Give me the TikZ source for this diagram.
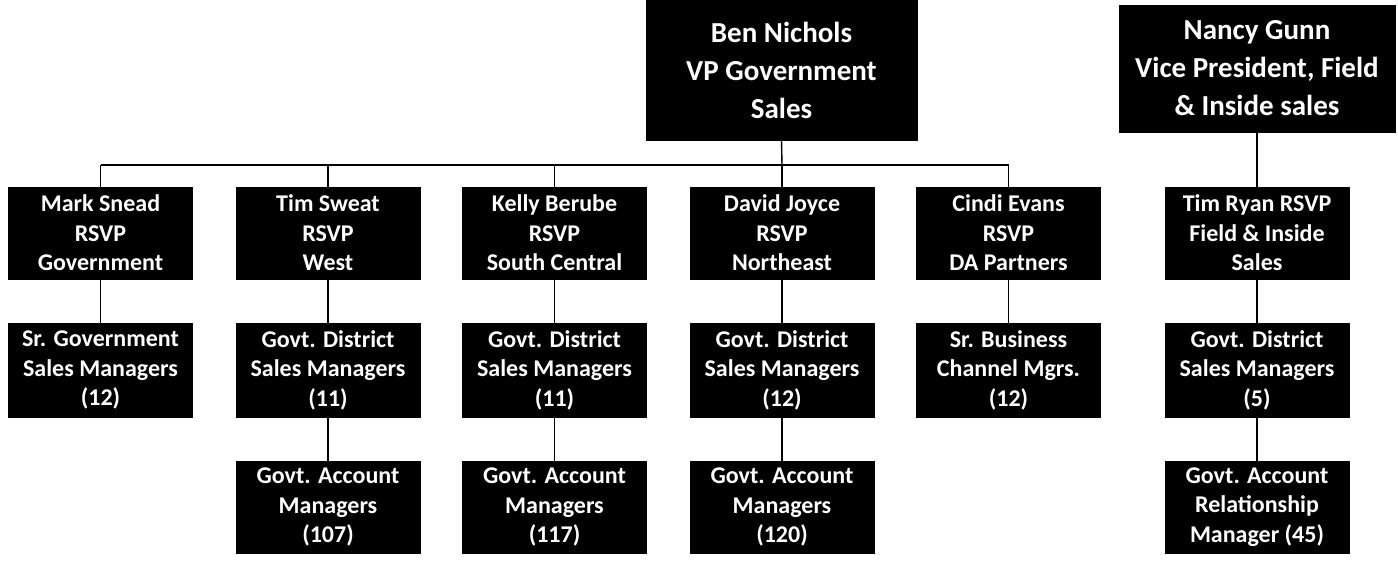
\documentclass[tikz,border=0pt]{standalone}
\usepackage{fontspec}
\setmainfont{Carlito}
\begin{document}
\begin{tikzpicture}[x=1pt,y=-1pt,
  topbox/.style={fill=black,draw=black,text=white,align=center,inner sep=0pt,
    font=\bfseries\fontsize{29}{38}\selectfont},
  orgbox/.style={fill=black,draw=black,text=white,align=center,inner sep=0pt,
    minimum width=184pt,font=\bfseries\fontsize{24}{29.5}\selectfont},
  link/.style={draw=black,line width=1.4pt}]
\useasboundingbox (0,0) rectangle (1398,560);
% top level
\node[topbox,minimum width=271pt,minimum height=140pt] (ben) at (781.5,70) {Ben Nichols\\VP Government\\Sales};
\node[topbox,minimum width=276pt,minimum height=127pt] (nancy) at (1257,68.5) {Nancy Gunn\\Vice President, Field\\\& Inside sales};
% row 1
\node[orgbox,minimum height=92pt] (mark) at (100.5,233) {Mark Snead\\RSVP\\Government};
\node[orgbox,minimum height=92pt] (tim) at (328,233) {Tim Sweat\\RSVP\\West};
\node[orgbox,minimum height=92pt] (kelly) at (554.5,233) {Kelly Berube\\RSVP\\South Central};
\node[orgbox,minimum height=92pt] (david) at (782,233) {David Joyce\\RSVP\\Northeast};
\node[orgbox,minimum height=92pt] (cindi) at (1008.5,233) {Cindi Evans\\RSVP\\DA Partners};
\node[orgbox,minimum height=92pt] (ryan) at (1257,233) {Tim Ryan RSVP\\Field \& Inside\\Sales};
% row 2
\node[orgbox,minimum height=94pt] (mark2) at (100.5,370) {Sr. Government\\Sales Managers\\(12)};
\node[orgbox,minimum height=94pt] (tim2) at (328,370) {Govt. District\\Sales Managers\\(11)};
\node[orgbox,minimum height=94pt] (kelly2) at (554.5,370) {Govt. District\\Sales Managers\\(11)};
\node[orgbox,minimum height=94pt] (david2) at (782,370) {Govt. District\\Sales Managers\\(12)};
\node[orgbox,minimum height=94pt] (cindi2) at (1008.5,370) {Sr. Business\\Channel Mgrs.\\(12)};
\node[orgbox,minimum height=94pt] (ryan2) at (1257,370) {Govt. District\\Sales Managers\\(5)};
% row 3
\node[orgbox,minimum height=92pt] (tim3) at (328,507) {Govt. Account\\Managers\\(107)};
\node[orgbox,minimum height=92pt] (kelly3) at (554.5,507) {Govt. Account\\Managers\\(117)};
\node[orgbox,minimum height=92pt] (david3) at (782,507) {Govt. Account\\Managers\\(120)};
\node[orgbox,minimum height=92pt] (ryan3) at (1257,507) {Govt. Account\\Relationship\\Manager (45)};
% connectors
\coordinate (bus) at (782,165);
\draw[link] (ben.south) -- (bus);
\draw[link] (mark.north |- bus) -- (cindi.north |- bus);
\foreach \n in {mark,tim,kelly,david,cindi}{
  \draw[link] (\n.north |- bus) -- (\n.north);
}
\draw[link] (nancy.south) -- (ryan.north);
\foreach \a/\b in {mark/mark2,tim/tim2,kelly/kelly2,david/david2,cindi/cindi2,ryan/ryan2,
  tim2/tim3,kelly2/kelly3,david2/david3,ryan2/ryan3}{
  \draw[link] (\a.south) -- (\b.north);
}
\end{tikzpicture}
\end{document}
